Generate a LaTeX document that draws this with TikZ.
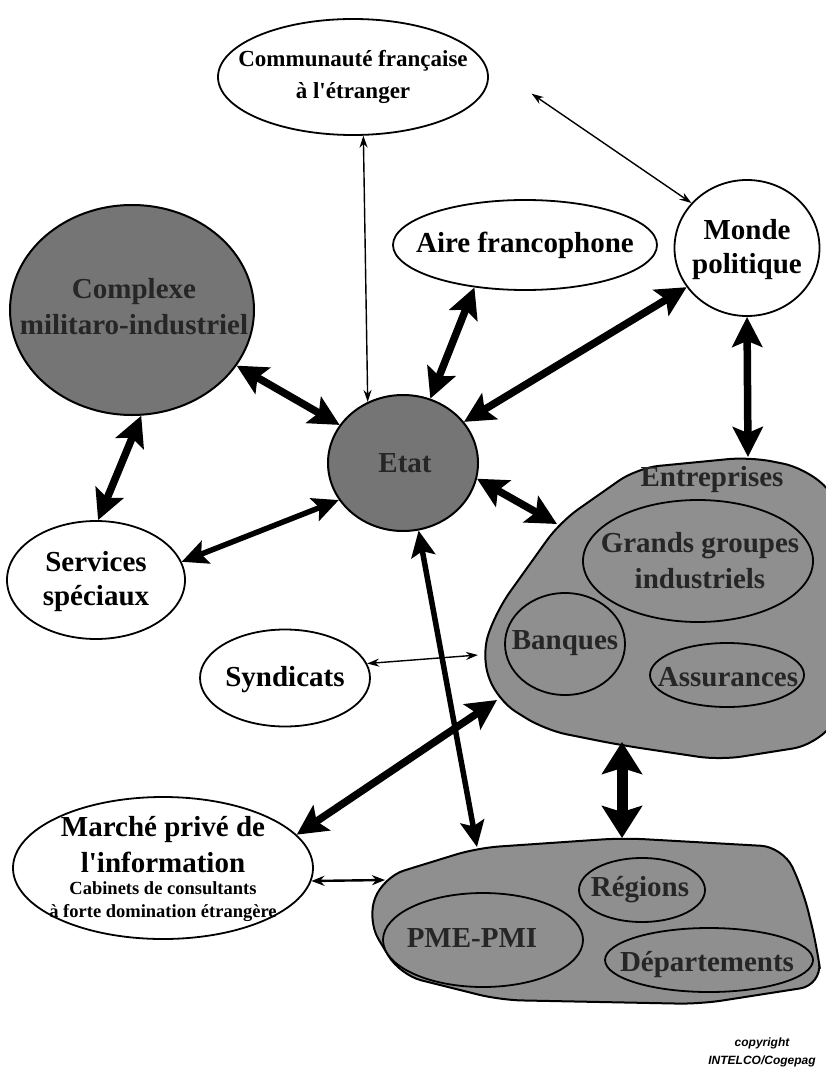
\documentclass[tikz,border=0pt]{standalone}
\usepackage{fontspec}
\setmainfont{Liberation Serif}
\setsansfont{Liberation Sans}
\usetikzlibrary{arrows.meta,shapes.geometric}
\definecolor{blobfill}{gray}{0.56}
\definecolor{darkfill}{gray}{0.46}
\begin{document}
\begin{tikzpicture}[x=1pt,y=-1pt,
  lbl/.style={font=\bfseries\fontsize{29}{34}\selectfont, align=center, inner sep=0pt},
  lblmid/.style={font=\bfseries\fontsize{23}{32}\selectfont, align=center, inner sep=0pt},
  lblsmall/.style={font=\bfseries\fontsize{18.5}{26}\selectfont, align=center, inner sep=0pt},
  dimlbl/.style={font=\bfseries\fontsize{29}{36}\selectfont, align=center, inner sep=0pt, text=black!85},
  oval/.style={ellipse, draw, line width=1.8pt, fill=white, inner sep=0pt},
  shadedoval/.style={ellipse, draw, line width=1.8pt, fill=blobfill, inner sep=0pt},
  darkoval/.style={ellipse, draw, line width=2pt, fill=darkfill, inner sep=0pt},
  blob/.style={draw, line width=2pt, fill=blobfill, rounded corners=22pt},
  thinarr/.style={line width=1.4pt, {Stealth[length=12pt,width=8pt]}-{Stealth[length=12pt,width=8pt]}},
  thinarrb/.style={line width=2.4pt, {Stealth[length=13pt,width=10pt]}-{Stealth[length=13pt,width=10pt]}},
  medarr/.style={line width=5.5pt, {Stealth[length=26pt,width=24pt,inset=5pt]}-{Stealth[length=26pt,width=24pt,inset=5pt]}},
  bigarr/.style={line width=7.5pt, {Stealth[length=30pt,width=30pt,inset=6pt]}-{Stealth[length=30pt,width=30pt,inset=6pt]}},
  hugearr/.style={line width=11pt, {Stealth[length=32pt,width=40pt,inset=6pt]}-{Stealth[length=32pt,width=40pt,inset=6pt]}},
  copy/.style={font=\sffamily\bfseries\itshape\fontsize{12}{14}\selectfont, inner sep=0pt}
]
\useasboundingbox (0,0) rectangle (825,1075);
\fill[white] (0,0) rectangle (825,1075);

% big blob (companies)
\draw[blob] (560,522) -- (637,468) -- (750,457) -- (805,468) -- (840,500) -- (840,715)
  -- (815,745) -- (720,760) -- (620,745) -- (545,730) -- (497,700) -- (481,655) -- (497,610) -- cycle;
% bottom blob (regions)
\draw[blob] (383,877) -- (477,848) -- (623,838) -- (783,847) -- (803,890) -- (817,947)
  -- (822,985) -- (700,1004) -- (500,1000) -- (400,975) -- (367,920) -- cycle;

\coordinate (bigA) at (557,524);
\coordinate (bigB) at (748,457);
\coordinate (bigS) at (478,655);
\coordinate (bigM) at (497,700);
\coordinate (bigC) at (622,742);
\coordinate (botA) at (622,838);
\coordinate (botE) at (477,847);
\coordinate (botM) at (385,880);

% white ovals
\node[oval, minimum width=270pt, minimum height=116pt] (comm) at (353,77) {};
\node[lblmid] at (353,77) {Communauté française\\à l\textquotesingle étranger};
\node[oval, minimum width=264pt, minimum height=90pt] (aire) at (525,245) {};
\node[lbl] at (525,245) {Aire francophone};
\node[oval, minimum width=145pt, minimum height=136pt] (monde) at (747,248) {};
\node[lbl] at (747,250) {Monde\\politique};
\node[oval, minimum width=178pt, minimum height=118pt] (serv) at (96,580) {};
\node[lbl] at (96,582) {Services\\spéciaux};
\node[oval, minimum width=170pt, minimum height=97pt] (syn) at (285,678) {};
\node[lbl] at (285,680) {Syndicats};
\node[oval, minimum width=300pt, minimum height=142pt] (marche) at (163,868) {};
\node[lbl] at (163,830) {Marché privé de};
\node[lbl] at (163,862) {l\textquotesingle information};
\node[lblsmall] at (163,888) {Cabinets de consultants};
\node[lblsmall] at (163,913) {à forte domination étrangère};

% dark ovals
\node[darkoval, minimum width=244pt, minimum height=210pt] (cmi) at (132,310) {};
\node[dimlbl] at (134,307) {Complexe\\militaro-industriel};
\node[darkoval, minimum width=150pt, minimum height=136pt] (etat) at (403,463) {};
\node[dimlbl] at (405,463) {Etat};

% inner ovals
\node[dimlbl] at (712,480) {Entreprises};
\node[shadedoval, minimum width=230pt, minimum height=122pt] (grands) at (698,561) {};
\node[dimlbl] at (700,561) {Grands groupes\\industriels};
\node[shadedoval, minimum width=120pt, minimum height=102pt] (banques) at (565,644) {};
\node[dimlbl] at (565,643) {Banques};
\node[shadedoval, minimum width=154pt, minimum height=64pt] (assur) at (727,675) {};
\node[dimlbl] at (728,677) {Assurances};
\node[shadedoval, minimum width=126pt, minimum height=64pt] (regions) at (642,890) {};
\node[dimlbl] at (640,890) {Régions};
\node[shadedoval, minimum width=200pt, minimum height=94pt] (pme) at (483,940) {};
\node[dimlbl] at (472,938) {PME-PMI};
\node[shadedoval, minimum width=208pt, minimum height=64pt] (depts) at (709,960) {};
\node[dimlbl] at (707,964) {Départements};

% connectors
\draw[thinarr, shorten <=58pt] (comm.7) -- (monde.141);
\draw[thinarr] (comm.-80) -- (etat.120);
\draw[bigarr] (aire.-140) -- (etat.67);
\draw[bigarr] (monde.-147) -- (etat.34);
\draw[bigarr] (cmi.-28) -- (etat.149);
\draw[bigarr] (cmi.-85) -- (serv.88);
\draw[medarr] (serv.12) -- (etat.-150);
\draw[bigarr] (etat.-12) -- (bigA);
\draw[bigarr] (monde.-90) -- (bigB);
\draw[thinarr] (syn.10) -- (bigS);
\draw[bigarr] (marche.14) -- (bigM);
\draw[medarr] (etat.-77) -- (botE);
\draw[hugearr] (bigC) -- (botA);
\draw[thinarrb] (marche.-5) -- (botM);

% copyright
\node[copy] (cpr) at (762,1043) {copyright};
\node[copy] (intel) at (762,1061) {INTELCO/Cogepag};
\end{tikzpicture}
\end{document}
